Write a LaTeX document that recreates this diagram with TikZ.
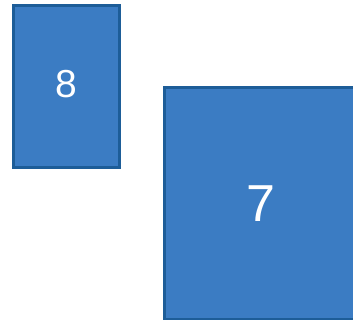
\documentclass[tikz,border=0pt]{standalone}
\usepackage{fontspec}
\setmainfont{Liberation Sans}
\definecolor{boxfill}{HTML}{3B7CC3}
\definecolor{boxline}{HTML}{1D5D98}
\begin{document}
\begin{tikzpicture}[x=1pt,y=-1pt,
  bluebox/.style={draw=boxline,fill=boxfill,line width=3pt,text=white,inner sep=0pt,anchor=north west}]
\useasboundingbox (0,0) rectangle (353,320);
\node[bluebox,minimum width=106pt,minimum height=162pt,text depth=6pt,font=\fontsize{39}{42}\selectfont] (eight) at (12,4) {8};
\node[bluebox,minimum width=192pt,minimum height=232pt,font=\fontsize{52}{56}\selectfont] (seven) at (163,86) {7};
\end{tikzpicture}
\end{document}
